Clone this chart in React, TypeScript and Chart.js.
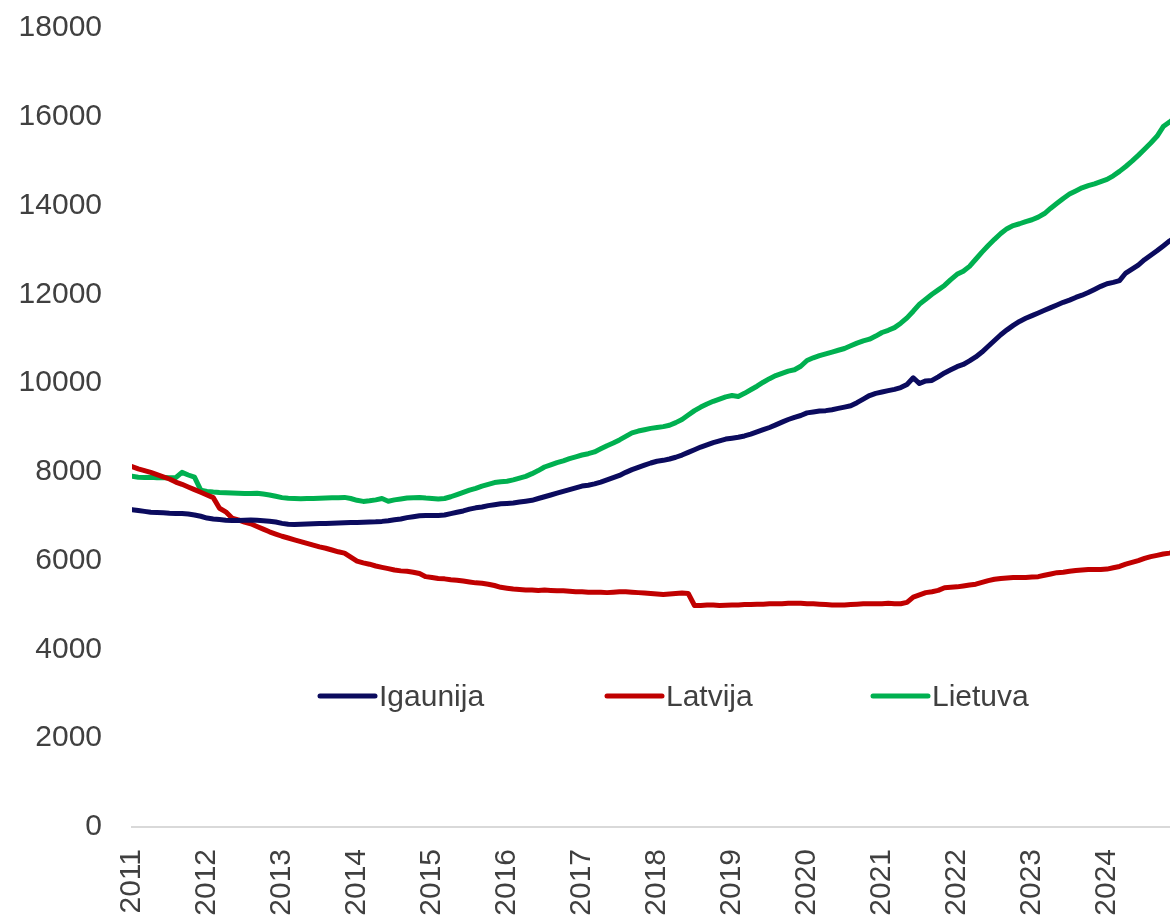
import React, { useEffect, useRef } from "react";
import { Chart, registerables } from "chart.js";

Chart.register(...registerables);

// Tick labels on the x axis (one per January)
const YEARS = ["2011", "2012", "2013", "2014", "2015", "2016", "2017", "2018", "2019", "2020", "2021", "2022", "2023", "2024"];

// Monthly values, Jan 2011 – Dec 2024
const IGAUNIJA = [
  7150, 7130, 7110, 7090, 7085, 7080, 7070, 7065, 7060, 7050, 7030, 7000,
  6960, 6940, 6925, 6910, 6905, 6905, 6910, 6915, 6910, 6900, 6890, 6870,
  6840, 6820, 6815, 6820, 6825, 6830, 6835, 6840, 6845, 6850, 6855, 6860,
  6860, 6865, 6870, 6875, 6885, 6900, 6920, 6940, 6970, 6990, 7010, 7020,
  7020, 7020, 7030, 7060, 7090, 7120, 7160, 7190, 7210, 7240, 7260, 7280,
  7290, 7300, 7320, 7340, 7360, 7400, 7440, 7480, 7520, 7560, 7600, 7640,
  7680, 7700, 7730, 7770, 7820, 7870, 7920, 7990, 8050, 8100, 8150, 8200,
  8240, 8260, 8290, 8330, 8380, 8440, 8500, 8560, 8610, 8660, 8700, 8740,
  8760, 8780, 8810, 8850, 8900, 8950, 9000, 9060, 9120, 9180, 9230, 9270,
  9330, 9350, 9370, 9380, 9400, 9430, 9460, 9490, 9560, 9640, 9720, 9770,
  9800, 9830, 9860, 9900, 9970, 10120, 9990, 10050, 10060, 10140, 10230, 10300,
  10370, 10420, 10500, 10590, 10700, 10830, 10960, 11090, 11200, 11300, 11390, 11460,
  11520, 11580, 11640, 11700, 11760, 11820, 11870, 11930, 11980, 12040, 12110, 12180,
  12240, 12270, 12310, 12480, 12570, 12660, 12780, 12880, 12980, 13090, 13200, 13300,
];

const LATVIJA = [
  8120, 8070, 8030, 7990, 7940, 7890, 7840, 7770, 7720, 7660, 7600, 7540,
  7480, 7420, 7180, 7100, 6960, 6920, 6870, 6830, 6770, 6710, 6650, 6600,
  6550, 6510, 6470, 6430, 6390, 6350, 6310, 6280, 6240, 6200, 6170, 6080,
  5990, 5950, 5920, 5880, 5850, 5820, 5790, 5770, 5760, 5740, 5710, 5640,
  5620, 5600, 5590, 5570, 5560, 5540, 5520, 5500, 5490, 5470, 5440, 5400,
  5380, 5360, 5350, 5340, 5340, 5330, 5340, 5330, 5320, 5320, 5310, 5300,
  5300, 5290, 5290, 5290, 5280, 5290, 5300, 5300, 5290, 5280, 5270, 5260,
  5250, 5240, 5250, 5260, 5270, 5260, 4990, 4990, 5000, 5000, 4990, 4995,
  5000, 5000, 5010, 5010, 5020, 5020, 5030, 5030, 5030, 5040, 5040, 5040,
  5030, 5030, 5020, 5010, 5000, 5000, 5000, 5010, 5020, 5030, 5030, 5030,
  5030, 5040, 5030, 5030, 5060, 5180, 5230, 5280, 5300, 5330, 5390, 5400,
  5410, 5430, 5450, 5470, 5510, 5550, 5580, 5600, 5610, 5620, 5620, 5620,
  5630, 5640, 5670, 5700, 5730, 5740, 5760, 5780, 5790, 5800, 5800, 5800,
  5810, 5840, 5870, 5920, 5960, 6000, 6050, 6090, 6120, 6150, 6170, 6200,
];

const LIETUVA = [
  7900, 7880, 7875, 7880, 7870, 7875, 7870, 7870, 7990, 7930, 7880, 7590,
  7560, 7545, 7535, 7530, 7525, 7520, 7515, 7515, 7520, 7500, 7480, 7450,
  7420, 7405, 7400, 7395, 7400, 7400, 7405, 7410, 7415, 7420, 7425, 7400,
  7360, 7335, 7350, 7370, 7400, 7340, 7370, 7390, 7410, 7420, 7425, 7410,
  7400, 7390, 7400, 7440, 7490, 7540, 7590, 7630, 7680, 7720, 7760, 7780,
  7790, 7820, 7860, 7900, 7960, 8030, 8110, 8160, 8210, 8250, 8300, 8340,
  8380, 8410, 8450, 8520, 8590, 8650, 8720, 8800, 8880, 8920, 8950, 8980,
  9000, 9020, 9050, 9110, 9180, 9280, 9380, 9460, 9530, 9590, 9640, 9690,
  9720, 9700, 9770, 9850, 9930, 10020, 10100, 10170, 10220, 10270, 10300, 10380,
  10510, 10570, 10620, 10660, 10700, 10740, 10780, 10840, 10900, 10950, 10990, 11060,
  11140, 11190, 11250, 11350, 11470, 11620, 11780, 11890, 12000, 12100, 12200, 12330,
  12450, 12520, 12630, 12790, 12950, 13100, 13240, 13370, 13480, 13550, 13590, 13640,
  13680, 13740, 13820, 13940, 14050, 14160, 14260, 14330, 14400, 14450, 14490, 14540,
  14590, 14670, 14770, 14880, 15000, 15130, 15270, 15410, 15560, 15780, 15880, 16000,
];

const SERIES_NAMES = ["Igaunija", "Latvija", "Lietuva"];
const SERIES_COLORS = ["#0b0b5e", "#c00000", "#00b050"];

const Y_TICKS = [0, 2000, 4000, 6000, 8000, 10000, 12000, 14000, 16000, 18000];

const FONT = "'Liberation Sans', Arial, sans-serif";
const TEXT_COLOR = "#404040";

export default function App() {
  const canvasRef = useRef<HTMLCanvasElement>(null);

  useEffect(() => {
    document.body.style.margin = "0";
    document.body.style.overflow = "hidden";
    const canvas = canvasRef.current;
    if (!canvas) return;

    const toPoints = (arr: number[]) => arr.map((v, i) => ({ x: i, y: v }));
    const allSeries = [IGAUNIJA, LATVIJA, LIETUVA];

    const legendPlugin = {
      id: "inlineLegend",
      afterDatasetsDraw(chart: any) {
        const ctx = chart.ctx as CanvasRenderingContext2D;
        const starts = [320, 607, 873];
        const lineY = 696;
        ctx.save();
        ctx.font = `30px ${FONT}`;
        ctx.textBaseline = "alphabetic";
        ctx.textAlign = "left";
        SERIES_NAMES.forEach((name, i) => {
          const x0 = starts[i];
          ctx.beginPath();
          ctx.strokeStyle = SERIES_COLORS[i];
          ctx.lineWidth = 5;
          ctx.lineCap = "round";
          ctx.moveTo(x0, lineY);
          ctx.lineTo(x0 + 55, lineY);
          ctx.stroke();
          ctx.fillStyle = TEXT_COLOR;
          ctx.fillText(name, x0 + 59, 706);
        });
        ctx.restore();
      },
    };

    const chart = new Chart(canvas, {
      type: "line",
      data: {
        datasets: allSeries.map((arr, i) => ({
          label: SERIES_NAMES[i],
          data: toPoints(arr),
          borderColor: SERIES_COLORS[i],
          backgroundColor: SERIES_COLORS[i],
          borderWidth: 5,
          pointRadius: 0,
          tension: 0,
          borderJoinStyle: "round" as const,
          borderCapStyle: "round" as const,
        })),
      },
      options: {
        animation: false,
        responsive: true,
        maintainAspectRatio: false,
        layout: { padding: { top: 28, right: 0, bottom: 0, left: 0 } },
        plugins: {
          legend: { display: false },
          tooltip: { enabled: false },
        },
        scales: {
          x: {
            type: "linear",
            min: 0,
            max: 166.08,
            grid: { display: false, drawTicks: false, tickLength: 0 },
            border: { display: true, color: "#d9d9d9", width: 2 },
            ticks: {
              stepSize: 12,
              includeBounds: false,
              autoSkip: false,
              minRotation: 90,
              maxRotation: 90,
              padding: 22,
              color: TEXT_COLOR,
              font: { family: FONT, size: 30 },
              callback: (v: any) => YEARS[Math.round(Number(v) / 12)] ?? "",
            },
            afterFit: (s: any) => {
              s.height = 89;
            },
          },
          y: {
            min: 0,
            max: 18000,
            afterBuildTicks: (s: any) => {
              s.ticks = Y_TICKS.map((v) => ({ value: v }));
            },
            grid: { display: false, drawTicks: false, tickLength: 0 },
            border: { display: false },
            ticks: {
              padding: 30,
              color: TEXT_COLOR,
              font: { family: FONT, size: 30 },
              callback: (v: any) => String(v),
            },
            afterFit: (s: any) => {
              s.width = 132;
              s.paddingTop = 0;
              s.paddingBottom = 0;
            },
          },
        },
      },
      plugins: [legendPlugin],
    });

    return () => chart.destroy();
  }, []);

  return (
    <div style={{ position: "relative", width: 1170, height: 916 }}>
      <canvas ref={canvasRef} style={{ display: "block" }} />
    </div>
  );
}
